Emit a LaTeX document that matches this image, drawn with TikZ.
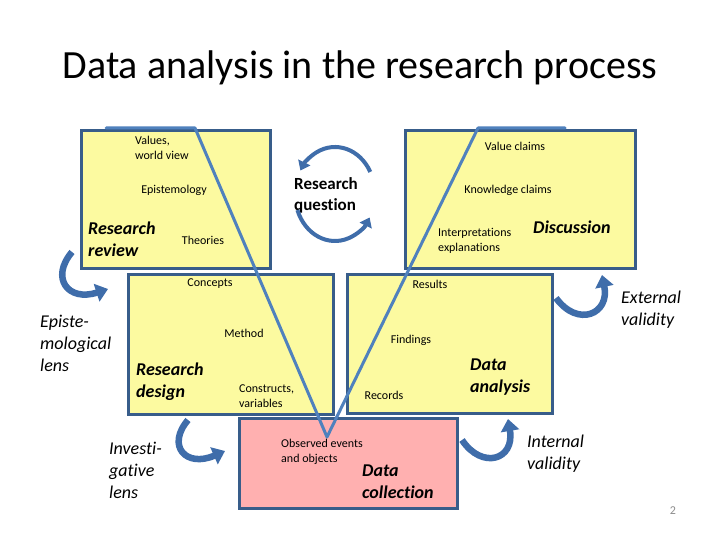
\documentclass[tikz,border=0pt]{standalone}
\usepackage{fontspec}
\setmainfont{Carlito}[Ligatures={NoCommon}]
\usetikzlibrary{arrows.meta}
\definecolor{boxline}{HTML}{385D8A}
\definecolor{vblue}{HTML}{4F81BD}
\definecolor{yel}{RGB}{252,250,160}
\definecolor{pinkf}{RGB}{255,176,176}
\definecolor{arrowc}{HTML}{3F6DAA}
\definecolor{pgnum}{RGB}{140,140,140}
\begin{document}
\begin{tikzpicture}[x=1pt,y=-1pt,
 box/.style={draw=boxline, line width=2.6pt, fill=yel, anchor=north west, inner sep=0pt},
 small/.style={font=\fontsize{12}{14.8}\selectfont, align=left, inner sep=0pt},
 smallw/.style={small, anchor=west},
 big/.style={font=\fontsize{18}{22}\selectfont\bfseries\itshape, align=left, inner sep=0pt, anchor=west},
 lens/.style={font=\fontsize{18}{22}\selectfont\itshape, align=left, inner sep=0pt, anchor=west},
 curv/.style={draw=arrowc, line width=6.5pt, -{Triangle[length=12pt,width=18pt]}},
 cyc/.style={draw=arrowc, line width=4pt, -{Triangle[length=9pt,width=13pt]}},
 vline/.style={draw=vblue, line width=3pt, line join=round, line cap=round}]
\useasboundingbox (0,0) rectangle (720,540);
\fill[white] (0,0) rectangle (720,540);
\node (title) at (360,68) {\fontsize{40}{48}\selectfont Data analysis in the research process};

% boxes
\node[box, minimum width=189pt, minimum height=138pt] (tl) at (80,129) {};
\node[box, minimum width=230pt, minimum height=138pt] (tr) at (404,129) {};
\node[box, minimum width=205pt, minimum height=140pt] (ml) at (127,273) {};
\node[box, minimum width=205pt, minimum height=139pt] (mr) at (346,273) {};
\node[box, fill=pinkf, minimum width=218pt, minimum height=90pt] (bt) at (238,417) {};

% V line
\coordinate (v1) at (106,128);
\coordinate (v2) at (195,128);
\coordinate (v3) at (327,437);
\coordinate (v4) at (478,128);
\coordinate (v5) at (565,128);
\draw[vline] (v1) -- (v2) -- (v3) -- (v4) -- (v5);

% top-left box texts
\node[smallw] (values) at (135,148) {Values,\\world view};
\node[small] (episte) at (174,190) {Epistemology};
\node[big] (rreview) at (88,239) {Research\\review};
\node[small] (theories) at (203,240) {Theories};

% top-right box texts
\node[small] (vclaims) at (515,146) {Value claims};
\node[small] (kclaims) at (508,190) {Knowledge claims};
\node[smallw] (interp) at (438,241) {Interpretations\\explanations};
\node[big] (disc) at (533,227) {Discussion};

% research question
\node[font=\fontsize{17}{21}\selectfont\bfseries, align=left, inner sep=0pt, anchor=west] (rq) at (294,195) {Research\\question};
\coordinate (rqc) at (335,194);
\draw[cyc] ([shift={(28:40pt and 47pt)}]rqc) arc[start angle=28, end angle=150, x radius=40pt, y radius=47pt];
\draw[cyc] ([shift={(200:40pt and 47pt)}]rqc) arc[start angle=200, end angle=330, x radius=40pt, y radius=47pt];

% middle-left texts
\node[small] (concepts) at (210,284) {Concepts};
\node[small] (method) at (244,333) {Method};
\node[big] (rdesign) at (136,382) {Research\\design};
\node[smallw] (constr) at (239,396) {Constructs,\\variables};

% middle-right texts
\node[small] (results) at (430,284) {Results};
\node[small] (findings) at (411,340) {Findings};
\node[big] (danal) at (470,377) {Data\\analysis};
\node[small] (records) at (384,395) {Records};

% bottom texts
\node[smallw] (observed) at (281,452) {Observed events\\and objects};
\node[big] (dcoll) at (362,482) {Data\\collection};

% lens labels
\node[lens] (elens) at (40,343) {Episte-\\mological\\lens};
\node[lens] (ilens) at (109,470) {Investi-\\gative\\lens};
\node[lens] (extv) at (621,310) {External\\validity};
\node[lens] (intv) at (527,454) {Internal\\validity};

\node[font=\fontsize{12}{14}\selectfont, text=pgnum] (pnum) at (673,511) {2};

% curved arrows
\coordinate (ea1) at (72,252);
\coordinate (ea2) at (108,289);
\draw[curv] (ea1) .. controls (50,278) and (68,302) .. (ea2);
\coordinate (ia1) at (188,420);
\coordinate (ia2) at (225,451);
\draw[curv] (ia1) .. controls (166,446) and (186,468) .. (ia2);
\coordinate (iv1) at (462,440);
\coordinate (iv2) at (508,419);
\draw[curv] (iv1) .. controls (482,470) and (515,460) .. (iv2);
\coordinate (ev1) at (556,298);
\coordinate (ev2) at (602,275);
\draw[curv] (ev1) .. controls (578,328) and (610,314) .. (ev2);
\end{tikzpicture}
\end{document}
